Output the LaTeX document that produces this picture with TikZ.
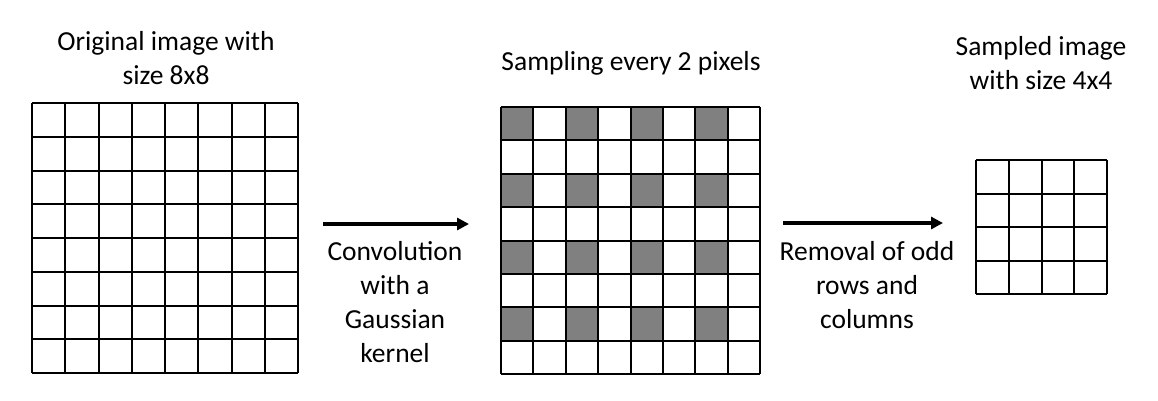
\documentclass[tikz,border=0pt]{standalone}
\usepackage{fontspec}
\setmainfont{Carlito}
\usetikzlibrary{arrows.meta}
\begin{document}
\begin{tikzpicture}[x=1pt,y=-1pt,
  gridline/.style={line width=2pt,black},
  graycell/.style={fill=black!50,draw=none},
  lbl/.style={align=center,font=\fontsize{27.5}{34}\selectfont,inner sep=0pt},
  arr/.style={line width=3.5pt,-{Triangle[length=12pt,width=12pt]}}]
\useasboundingbox (0,0) rectangle (1158,400);
% grid 1 : 8x8
\foreach \i in {0,...,8} {
  \draw[gridline] (32+\i*33.25,103) -- (32+\i*33.25,373);
  \draw[gridline] (32,103+\i*33.75) -- (298,103+\i*33.75);
}
% grid 2 : 8x8 with sampled cells
\foreach \r in {0,2,4,6} \foreach \c in {0,2,4,6}
  \fill[graycell] (501+\c*32.375,107+\r*33.375) rectangle ++(32.375,33.375);
\foreach \i in {0,...,8} {
  \draw[gridline] (501+\i*32.375,107) -- (501+\i*32.375,374);
  \draw[gridline] (501,107+\i*33.375) -- (760,107+\i*33.375);
}
% grid 3 : 4x4
\foreach \i in {0,...,4} {
  \draw[gridline] (976+\i*32.75,160) -- (976+\i*32.75,294);
  \draw[gridline] (976,160+\i*33.5) -- (1107,160+\i*33.5);
}
\node[lbl] (t1) at (166,58) {Original image with\\size 8x8};
\node[lbl] (t2) at (631,63) {Sampling every 2 pixels};
\node[lbl] (t3) at (1041,63) {Sampled image\\with size 4x4};
\coordinate (a1s) at (323,224);
\coordinate (a1e) at (469,224);
\coordinate (a2s) at (783,223);
\coordinate (a2e) at (943,223);
\draw[arr] (a1s) -- (a1e);
\draw[arr] (a2s) -- (a2e);
\node[lbl] (l1) at (395,302) {Convolution\\with a\\Gaussian\\kernel};
\node[lbl] (l2) at (867,285) {Removal of odd\\rows and\\columns};
\end{tikzpicture}
\end{document}
